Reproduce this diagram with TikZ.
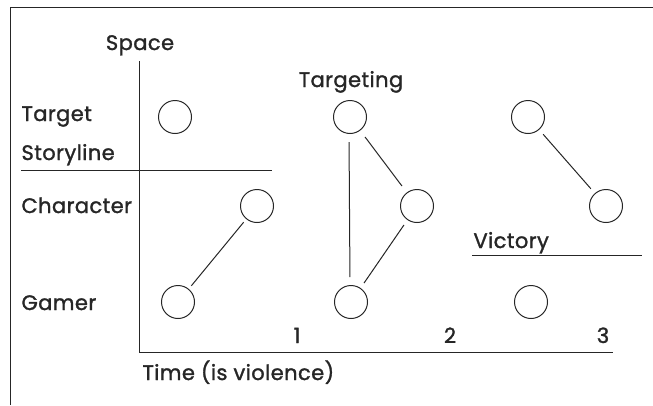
\documentclass[tikz,border=0pt]{standalone}
\usepackage{fontspec}
\setmainfont{Poppins}[FakeBold=1.4, LetterSpace=2]
\begin{document}
\begin{tikzpicture}[x=1pt, y=-1pt, line width=1pt, black!85,
	spot/.style={circle, draw, minimum size=33pt, inner sep=0pt},
	tie/.style={shorten <=#1, shorten >=#1},
	lbl/.style={anchor=base west, inner sep=0pt, text=black!85, font=\fontsize{21}{24}\selectfont},
	num/.style={lbl, anchor=base}]
	\useasboundingbox (0,0) rectangle (653,405);
	% frame and axes
	\draw (10,405) coordinate (fb) -- (10,7) coordinate (ft) -- (653,7) coordinate (fr);
	\draw (139,61) coordinate (top) -- (139,352) coordinate (O) -- (613,352) coordinate (right);
	\draw (21,170) coordinate (sl) -- (272,170) coordinate (sr);
	\draw (472,255) coordinate (vl) -- (642,255) coordinate (vr);
	% labels
	\node[lbl, anchor=base] (space) at (140,50) {Space};
	\node[lbl] (target)    at (21,121) {Target};
	\node[lbl] (storyline) at (21,160) {Storyline};
	\node[lbl] (character) at (21,213) {Character};
	\node[lbl] (gamer)     at (21,310) {Gamer};
	\node[lbl] (time)      at (142,380) {Time (is violence)};
	\node[lbl, anchor=base] (targeting) at (351,87) {Targeting};
	\node[lbl] (victory)   at (473,248) {Victory};
	\node[num] (one)   at (297,343) {1};
	\node[num] (two)   at (450,343) {2};
	\node[num] (three) at (603,343) {3};
	% circles
	\node[spot] (t1) at (175,117) {};
	\node[spot] (c1) at (257,206) {};
	\node[spot] (g1) at (178,302) {};
	\node[spot] (t2) at (350,117) {};
	\node[spot] (c2) at (417,206) {};
	\node[spot] (g2) at (351,302) {};
	\node[spot] (t3) at (528,117) {};
	\node[spot] (c3) at (606,206) {};
	\node[spot] (g3) at (531,302) {};
	% links
	\draw[tie=4pt] (g1) -- (c1);
	\draw[tie=8pt] ([xshift=-1pt]t2.south) -- ([xshift=-1pt]g2.north);
	\draw[tie=8pt] (t2) -- (c2);
	\draw[tie=6pt] (g2) -- (c2);
	\draw[tie=6pt] (t3) -- (c3);
\end{tikzpicture}
\end{document}
